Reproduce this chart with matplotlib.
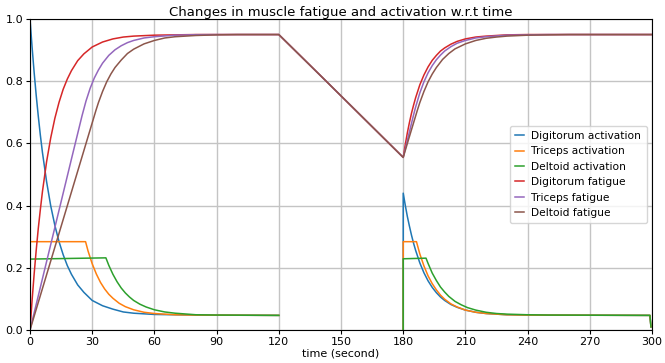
import matplotlib
matplotlib.use("Agg")
import matplotlib.pyplot as plt

nan = float("nan")

# ---- Data (time in seconds, values 0..1) ----
# nan marks the rest period, where the activation lines are not drawn
dig_act_t = [0, 1, 2, 3, 4, 5, 6, 8, 10, 12, 14, 16, 18, 20, 23, 26, 30, 35, 40, 45, 50, 60, 70, 80, 120,
             150, 180, 180.01, 181, 182, 183, 184, 185, 186, 188, 190, 192, 194, 196, 198, 200, 203, 206,
             210, 215, 220, 230, 240, 299, 299.5]
dig_act_v = [1.0, 0.910, 0.828, 0.754, 0.687, 0.626, 0.571, 0.477, 0.399, 0.336, 0.284, 0.242, 0.207, 0.179,
             0.145, 0.121, 0.095, 0.078, 0.067, 0.058, 0.054, 0.050, 0.049, 0.048, 0.047,
             nan, 0.0, 0.440, 0.401, 0.365, 0.334, 0.305, 0.279, 0.256, 0.216, 0.184, 0.158, 0.137, 0.120,
             0.106, 0.095, 0.082, 0.073, 0.064, 0.057, 0.053, 0.049, 0.048, 0.047, 0.01]

tri_act_t = [0, 0.01, 26.8, 28, 30, 32, 34, 36, 38, 40, 43, 46, 50, 55, 60, 70, 80, 120,
             150, 180, 180.01, 186.4, 188, 190, 192, 194, 196, 198, 200, 203, 206, 210, 215, 220,
             230, 240, 299, 299.5]
tri_act_v = [0.0, 0.284, 0.284, 0.254, 0.213, 0.180, 0.153, 0.132, 0.115, 0.102, 0.086, 0.075, 0.065,
             0.057, 0.053, 0.049, 0.048, 0.047,
             nan, 0.0, 0.284, 0.284, 0.245, 0.206, 0.174, 0.149, 0.129, 0.112, 0.099, 0.084, 0.074, 0.064,
             0.057, 0.053, 0.049, 0.048, 0.047, 0.01]

del_act_t = [0, 0.01, 36.6, 38, 40, 42, 44, 46, 48, 50, 53, 56, 60, 65, 70, 80, 90, 120,
             150, 180, 180.01, 191, 192, 194, 196, 198, 200, 202, 205, 208, 211, 215, 220, 225, 230,
             240, 250, 299, 299.5]
del_act_v = [0.0, 0.228, 0.232, 0.208, 0.179, 0.155, 0.135, 0.119, 0.106, 0.095, 0.083, 0.074, 0.065,
             0.058, 0.054, 0.049, 0.048, 0.047,
             nan, 0.0, 0.229, 0.231, 0.214, 0.183, 0.159, 0.138, 0.122, 0.108, 0.092, 0.081, 0.072, 0.064,
             0.057, 0.053, 0.051, 0.049, 0.048, 0.047, 0.01]

dig_fat_t = [0, 1, 2, 3, 4, 5, 6, 8, 10, 12, 14, 16, 18, 20, 23, 26, 30, 35, 40, 45, 50, 60, 70, 80, 120,
             142.7, 180, 181, 182, 183, 184, 185, 186, 188, 190, 192, 194, 196, 198, 200, 203, 206, 210,
             215, 220, 230, 240, 300]
dig_fat_v = [0.0, 0.095, 0.180, 0.257, 0.327, 0.388, 0.445, 0.541, 0.618, 0.681, 0.732, 0.774, 0.807,
             0.834, 0.866, 0.888, 0.910, 0.926, 0.936, 0.942, 0.945, 0.948, 0.949, 0.950, 0.950,
             0.801, 0.555, 0.596, 0.634, 0.667, 0.697, 0.723, 0.747, 0.788, 0.820, 0.846, 0.867, 0.883,
             0.897, 0.907, 0.919, 0.928, 0.936, 0.942, 0.945, 0.949, 0.950, 0.950]

tri_fat_t = [0, 5, 10, 15, 20, 25.1, 27, 29, 31, 33, 35, 38, 41, 44, 47, 50, 55, 60, 70, 80, 90, 120,
             142.7, 180, 182, 184.9, 186, 188, 190, 192, 194, 196, 198, 200, 203, 206, 210, 215, 220, 230,
             240, 250, 300]
tri_fat_v = [0.0, 0.1375, 0.275, 0.4125, 0.55, 0.689, 0.736, 0.777, 0.810, 0.836, 0.858, 0.883, 0.901,
             0.914, 0.924, 0.931, 0.939, 0.943, 0.948, 0.9495, 0.950, 0.950,
             0.801, 0.555, 0.610, 0.689, 0.717, 0.762, 0.798, 0.827, 0.850, 0.869, 0.884, 0.897, 0.911,
             0.922, 0.931, 0.939, 0.943, 0.948, 0.949, 0.950, 0.950]

del_fat_t = [0, 5, 10, 15, 20, 25, 30, 31.8, 33, 35, 37, 39, 41, 44, 47, 50, 55, 60, 65, 70, 80, 90, 100,
             120, 142.7, 180, 183, 186.8, 188, 190, 192, 194, 196, 199, 202, 205, 210, 215, 220, 225, 230,
             240, 250, 260, 300]
del_fat_v = [0.0, 0.111, 0.222, 0.333, 0.444, 0.555, 0.666, 0.706, 0.731, 0.767, 0.798, 0.823, 0.844,
             0.868, 0.889, 0.903, 0.920, 0.931, 0.939, 0.943, 0.947, 0.949, 0.950, 0.950,
             0.801, 0.555, 0.622, 0.706, 0.731, 0.767, 0.798, 0.823, 0.844, 0.870, 0.889, 0.904, 0.920,
             0.931, 0.938, 0.942, 0.945, 0.948, 0.949, 0.950, 0.950]

labels = ["Digitorum activation", "Triceps activation", "Deltoid activation",
          "Digitorum fatigue", "Triceps fatigue", "Deltoid fatigue"]
x_ticks = [0, 30, 60, 90, 120, 150, 180, 210, 240, 270, 300]
y_ticks = [0.0, 0.2, 0.4, 0.6, 0.8, 1.0]

# ---- Plot ----
fig = plt.figure(figsize=(6.65, 3.63), dpi=100)
ax = fig.add_axes([30 / 665, 1 - 330 / 363, 622 / 665, 311 / 363])

series = [(dig_act_t, dig_act_v, "tab:blue"), (tri_act_t, tri_act_v, "tab:orange"),
          (del_act_t, del_act_v, "tab:green"), (dig_fat_t, dig_fat_v, "tab:red"),
          (tri_fat_t, tri_fat_v, "tab:purple"), (del_fat_t, del_fat_v, "tab:brown")]
for (t, v, c), lab in zip(series, labels):
    ax.plot(t, v, color=c, linewidth=1.1, label=lab)

ax.set_xlim(0, 300)
ax.set_ylim(0, 1)
ax.set_xticks(x_ticks)
ax.set_yticks(y_ticks)
ax.tick_params(labelsize=8, length=3, pad=2)
ax.grid(True, color="#c4c4c4", linewidth=1.0)
ax.set_title("Changes in muscle fatigue and activation w.r.t time", fontsize=9.5, pad=2)
ax.set_xlabel("time (second)", fontsize=8, labelpad=1)
ax.legend(loc="center right", fontsize=7.7, handlelength=0.8, handletextpad=0.7,
          labelspacing=0.5, borderpad=0.5, borderaxespad=0.5)

fig.savefig("out.png", dpi=100)
